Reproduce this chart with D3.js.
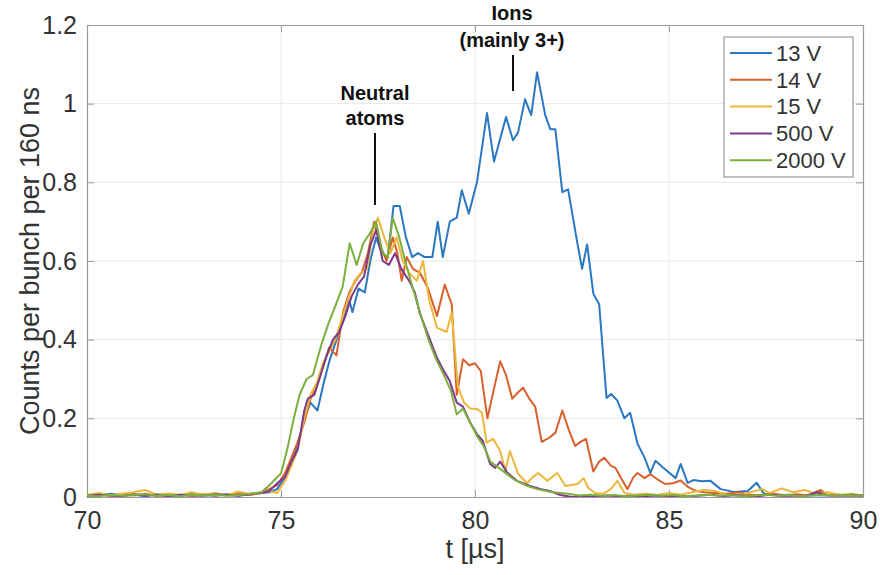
<!DOCTYPE html>
<html>
<head>
<meta charset="utf-8">
<script src="https://cdn.jsdelivr.net/npm/d3@7/dist/d3.min.js"></script>
<style>
  body { margin: 0; background: #fff; }
  svg text { font-family: "Liberation Sans", Arial, Helvetica, sans-serif; }
</style>
</head>
<body>
<svg id="chart" width="880" height="575"></svg>
<script>
// Axis ticks and labels
const xTicks = [70, 75, 80, 85, 90];
const yTicks = [0, 0.2, 0.4, 0.6, 0.8, 1, 1.2];
const yTickLabels = ["0", "0.2", "0.4", "0.6", "0.8", "1", "1.2"];

// Series: detector bias voltage
const seriesNames = ["13 V", "14 V", "15 V", "500 V", "2000 V"];
const seriesColors = ["#2a78c2", "#d9602c", "#ecb73a", "#7d3a8f", "#7caf3e"];

// Counts per bunch per 160 ns vs arrival time t [µs], as [t, counts]
const s13V = [[70,0.005],[70.3,0.003],[70.6,0.008],[70.9,0.004],[71.2,0.006],[71.5,0.002],[71.8,0.007],[72.1,0.004],[72.4,0.003],[72.7,0.008],[73.0,0.005],[73.3,0.003],[73.6,0.007],[73.9,0.004],[74.2,0.006],[74.5,0.01],[74.7,0.012],[74.9,0.02],[75.1,0.05],[75.27,0.09],[75.43,0.13],[75.6,0.2],[75.76,0.24],[75.94,0.22],[76.1,0.29],[76.26,0.35],[76.43,0.40],[76.6,0.45],[76.76,0.50],[76.84,0.47],[77.0,0.53],[77.16,0.52],[77.3,0.6],[77.45,0.66],[77.6,0.62],[77.75,0.61],[77.9,0.74],[78.06,0.74],[78.22,0.66],[78.38,0.61],[78.53,0.62],[78.7,0.61],[78.9,0.61],[79.04,0.70],[79.17,0.61],[79.35,0.70],[79.53,0.71],[79.66,0.78],[79.84,0.72],[80.05,0.80],[80.31,0.976],[80.49,0.853],[80.8,0.966],[80.98,0.907],[81.11,0.927],[81.29,1.011],[81.45,0.971],[81.6,1.08],[81.81,0.971],[81.94,0.935],[82.07,0.935],[82.25,0.775],[82.4,0.782],[82.63,0.65],[82.76,0.58],[82.89,0.642],[83.05,0.517],[83.2,0.49],[83.39,0.252],[83.51,0.262],[83.67,0.245],[83.85,0.20],[84.0,0.214],[84.19,0.135],[84.37,0.10],[84.52,0.061],[84.65,0.092],[84.86,0.074],[85.17,0.048],[85.3,0.084],[85.48,0.036],[85.63,0.043],[85.85,0.04],[86.07,0.041],[86.33,0.02],[86.67,0.013],[87.03,0.015],[87.26,0.036],[87.45,0.008],[87.8,0.004],[88.1,0.006],[88.4,0.003],[88.7,0.005],[89.0,0.004],[89.3,0.006],[89.6,0.003],[90,0.004]];

const s14V = [[70,0.004],[70.3,0.007],[70.6,0.003],[70.9,0.006],[71.2,0.004],[71.5,0.008],[71.8,0.003],[72.1,0.006],[72.4,0.005],[72.7,0.003],[73.0,0.007],[73.3,0.004],[73.6,0.006],[73.9,0.008],[74.2,0.005],[74.5,0.012],[74.7,0.02],[74.9,0.03],[75.1,0.06],[75.27,0.1],[75.43,0.14],[75.6,0.19],[75.76,0.25],[75.92,0.28],[76.08,0.33],[76.24,0.38],[76.43,0.36],[76.6,0.47],[76.76,0.52],[76.92,0.55],[77.08,0.57],[77.24,0.62],[77.4,0.70],[77.56,0.64],[77.72,0.60],[77.88,0.66],[78.0,0.62],[78.11,0.55],[78.24,0.61],[78.4,0.58],[78.58,0.57],[78.79,0.53],[79.02,0.46],[79.22,0.54],[79.4,0.49],[79.53,0.26],[79.69,0.35],[79.85,0.335],[80.0,0.34],[80.15,0.32],[80.32,0.20],[80.5,0.28],[80.65,0.345],[80.8,0.31],[80.96,0.25],[81.1,0.265],[81.24,0.278],[81.4,0.25],[81.55,0.23],[81.72,0.14],[81.9,0.15],[82.07,0.163],[82.25,0.22],[82.42,0.17],[82.58,0.13],[82.72,0.14],[82.86,0.148],[83.05,0.065],[83.2,0.09],[83.33,0.10],[83.5,0.08],[83.62,0.074],[83.78,0.045],[83.93,0.02],[84.08,0.05],[84.19,0.061],[84.37,0.048],[84.52,0.058],[84.7,0.045],[84.9,0.033],[85.1,0.035],[85.3,0.042],[85.5,0.025],[85.7,0.015],[85.9,0.012],[86.2,0.01],[86.5,0.008],[86.8,0.012],[87.1,0.006],[87.4,0.005],[87.7,0.008],[88.0,0.004],[88.3,0.007],[88.6,0.004],[88.9,0.018],[89.1,0.005],[89.4,0.006],[89.7,0.004],[90,0.005]];

const s15V = [[70,0.006],[70.3,0.01],[70.6,0.004],[70.9,0.008],[71.2,0.012],[71.5,0.018],[71.8,0.006],[72.1,0.009],[72.4,0.005],[72.7,0.012],[73.0,0.006],[73.3,0.01],[73.6,0.004],[73.9,0.014],[74.2,0.007],[74.5,0.01],[74.7,0.015],[74.9,0.01],[75.1,0.04],[75.27,0.08],[75.43,0.12],[75.6,0.2],[75.76,0.26],[75.92,0.29],[76.08,0.34],[76.24,0.37],[76.4,0.40],[76.56,0.45],[76.72,0.50],[76.9,0.55],[77.06,0.57],[77.22,0.58],[77.38,0.68],[77.5,0.71],[77.66,0.66],[77.82,0.62],[77.98,0.66],[78.14,0.60],[78.3,0.57],[78.5,0.55],[78.66,0.60],[78.82,0.50],[79.02,0.43],[79.27,0.42],[79.40,0.47],[79.56,0.28],[79.72,0.24],[79.88,0.225],[80.05,0.224],[80.18,0.214],[80.3,0.138],[80.47,0.148],[80.65,0.117],[80.78,0.066],[80.9,0.117],[81.11,0.059],[81.34,0.035],[81.48,0.05],[81.63,0.061],[81.86,0.041],[82.12,0.061],[82.33,0.028],[82.64,0.033],[82.8,0.048],[82.92,0.023],[83.1,0.01],[83.3,0.008],[83.5,0.02],[83.67,0.041],[83.85,0.01],[84.1,0.006],[84.4,0.008],[84.7,0.005],[85.0,0.01],[85.3,0.006],[85.6,0.012],[85.9,0.018],[86.2,0.015],[86.5,0.006],[86.8,0.004],[87.1,0.012],[87.4,0.02],[87.6,0.01],[87.9,0.022],[88.2,0.012],[88.5,0.018],[88.8,0.008],[89.1,0.012],[89.4,0.005],[89.7,0.008],[90,0.004]];

const s500V = [[70,0.003],[70.3,0.006],[70.6,0.004],[70.9,0.002],[71.2,0.007],[71.5,0.004],[71.8,0.005],[72.1,0.002],[72.4,0.006],[72.7,0.004],[73.0,0.003],[73.3,0.007],[73.6,0.005],[73.9,0.003],[74.2,0.008],[74.5,0.01],[74.7,0.015],[74.9,0.035],[75.1,0.05],[75.27,0.09],[75.43,0.12],[75.6,0.22],[75.69,0.25],[75.86,0.26],[76.02,0.31],[76.18,0.36],[76.34,0.40],[76.5,0.42],[76.66,0.46],[76.82,0.51],[76.98,0.54],[77.14,0.56],[77.3,0.64],[77.46,0.68],[77.62,0.60],[77.78,0.59],[77.94,0.62],[78.1,0.58],[78.3,0.55],[78.45,0.52],[78.58,0.466],[78.8,0.41],[79.02,0.354],[79.2,0.32],[79.35,0.295],[79.53,0.24],[79.69,0.23],[79.87,0.19],[80.05,0.16],[80.2,0.143],[80.39,0.084],[80.52,0.074],[80.65,0.09],[80.83,0.062],[81.08,0.041],[81.42,0.028],[81.7,0.02],[81.94,0.015],[82.2,0.005],[82.5,0.0],[82.8,0.003],[83.1,0.001],[83.4,0.004],[83.7,0.002],[84.0,0.003],[84.3,0.001],[84.6,0.004],[84.9,0.002],[85.2,0.003],[85.5,0.001],[85.8,0.004],[86.1,0.006],[86.4,0.002],[86.7,0.005],[87.0,0.003],[87.3,0.002],[87.6,0.006],[87.9,0.003],[88.2,0.004],[88.5,0.002],[88.8,0.012],[89.1,0.004],[89.4,0.003],[89.7,0.006],[90,0.003]];

const s2000V = [[70,0.004],[70.3,0.002],[70.6,0.006],[70.9,0.003],[71.2,0.005],[71.5,0.007],[71.8,0.003],[72.1,0.005],[72.4,0.002],[72.7,0.006],[73.0,0.004],[73.3,0.006],[73.6,0.003],[73.9,0.005],[74.2,0.008],[74.5,0.012],[74.7,0.03],[74.85,0.045],[75.0,0.06],[75.17,0.125],[75.33,0.2],[75.48,0.26],[75.66,0.30],[75.82,0.31],[76.05,0.39],[76.22,0.44],[76.38,0.48],[76.59,0.535],[76.77,0.645],[76.95,0.59],[77.12,0.645],[77.29,0.67],[77.45,0.70],[77.62,0.62],[77.75,0.61],[77.88,0.71],[78.05,0.66],[78.2,0.60],[78.4,0.53],[78.58,0.47],[78.8,0.40],[79.0,0.35],[79.2,0.31],[79.38,0.27],[79.53,0.21],[79.69,0.225],[79.87,0.19],[80.05,0.155],[80.22,0.13],[80.4,0.09],[80.6,0.075],[80.8,0.06],[81.0,0.045],[81.3,0.03],[81.6,0.02],[82.0,0.012],[82.4,0.008],[82.7,0.004],[83.0,0.006],[83.3,0.003],[83.6,0.005],[83.9,0.002],[84.2,0.004],[84.5,0.006],[84.8,0.003],[85.1,0.005],[85.4,0.002],[85.7,0.004],[86.0,0.006],[86.3,0.003],[86.6,0.005],[86.9,0.002],[87.2,0.004],[87.5,0.006],[87.8,0.003],[88.1,0.005],[88.4,0.002],[88.7,0.004],[89.0,0.006],[89.3,0.003],[89.6,0.005],[90,0.003]];

const seriesData = [s13V, s14V, s15V, s500V, s2000V];

const svg = d3.select("#chart");
const plotLeft = 87, plotRight = 863, plotTop = 25, plotBottom = 497;

const x = d3.scaleLinear().domain([70, 90]).range([plotLeft, plotRight]);
const y = d3.scaleLinear().domain([0, 1.2]).range([plotBottom, plotTop]);

const textColor = "#333";
const axisColor = "#9a9a9a";

// Grid
const grid = svg.append("g");
grid.selectAll("line.gx").data(xTicks.slice(1, -1)).join("line")
  .attr("x1", d => x(d)).attr("x2", d => x(d))
  .attr("y1", plotTop).attr("y2", plotBottom)
  .attr("stroke", "#e8e8e8").attr("stroke-width", 1);
grid.selectAll("line.gy").data(yTicks.slice(1, -1)).join("line")
  .attr("x1", plotLeft).attr("x2", plotRight)
  .attr("y1", d => y(d)).attr("y2", d => y(d))
  .attr("stroke", "#e8e8e8").attr("stroke-width", 1);

// Axes with inward ticks on all four sides
const tickLen = 7;
const axisB = d3.axisBottom(x).tickValues(xTicks).tickSizeInner(-tickLen).tickSizeOuter(0).tickPadding(14);
const axisL = d3.axisLeft(y).tickValues(yTicks).tickFormat((d, i) => yTickLabels[i]).tickSizeInner(-tickLen).tickSizeOuter(0).tickPadding(10);
const axisT = d3.axisTop(x).tickValues(xTicks).tickSizeInner(-tickLen).tickSizeOuter(0).tickFormat("");
const axisR = d3.axisRight(y).tickValues(yTicks).tickSizeInner(-tickLen).tickSizeOuter(0).tickFormat("");

function styleAxis(g) {
  g.select(".domain").attr("stroke", axisColor).attr("stroke-width", 1.2);
  g.selectAll(".tick line").attr("stroke", axisColor);
  g.selectAll(".tick text").attr("fill", textColor)
    .style("font-family", '"Liberation Sans", Arial, sans-serif').style("font-size", "25px");
}

svg.append("g").attr("transform", `translate(0,${plotBottom})`).call(axisB).call(styleAxis);
svg.append("g").attr("transform", `translate(${plotLeft},0)`).call(axisL).call(styleAxis);
svg.append("g").attr("transform", `translate(0,${plotTop})`).call(axisT).call(styleAxis);
svg.append("g").attr("transform", `translate(${plotRight},0)`).call(axisR).call(styleAxis);

// Data lines
svg.append("clipPath").attr("id", "plotClip").append("rect")
  .attr("x", plotLeft).attr("y", plotTop - 2).attr("width", plotRight - plotLeft).attr("height", plotBottom - plotTop + 2);

const line = d3.line().x(d => x(d[0])).y(d => y(d[1]));
svg.append("g").attr("clip-path", "url(#plotClip)")
  .selectAll("path").data(seriesData).join("path")
  .attr("d", line)
  .attr("fill", "none")
  .attr("stroke", (d, i) => seriesColors[i])
  .attr("stroke-width", 2)
  .attr("stroke-linejoin", "round");

// Axis titles
svg.append("text")
  .attr("x", (plotLeft + plotRight) / 2).attr("y", 558)
  .attr("text-anchor", "middle").attr("fill", textColor)
  .style("font-size", "27px").text("t [µs]");
svg.append("text")
  .attr("transform", `translate(39,${(plotTop + plotBottom) / 2}) rotate(-90)`)
  .attr("text-anchor", "middle").attr("fill", textColor)
  .style("font-size", "27px").text("Counts per bunch per 160 ns");

// Annotations
const ann = svg.append("g").attr("fill", "#111").style("font-size", "20px").style("font-weight", "bold");
ann.append("text").attr("x", 375).attr("y", 100).attr("text-anchor", "middle").text("Neutral");
ann.append("text").attr("x", 375).attr("y", 125).attr("text-anchor", "middle").text("atoms");
svg.append("line").attr("x1", 375).attr("x2", 375).attr("y1", 133).attr("y2", 205)
  .attr("stroke", "#111").attr("stroke-width", 2);
ann.append("text").attr("x", 512).attr("y", 20).attr("text-anchor", "middle").text("Ions");
ann.append("text").attr("x", 512).attr("y", 47).attr("text-anchor", "middle").text("(mainly 3+)");
svg.append("line").attr("x1", 513).attr("x2", 513).attr("y1", 55).attr("y2", 91)
  .attr("stroke", "#111").attr("stroke-width", 2);

// Legend
const lg = svg.append("g");
lg.append("rect").attr("x", 724).attr("y", 37).attr("width", 129).attr("height", 140)
  .attr("fill", "#fff").attr("stroke", axisColor).attr("stroke-width", 1.2);
const rows = lg.selectAll("g.row").data(seriesNames).join("g")
  .attr("transform", (d, i) => `translate(0,${53 + i * 26.8})`);
rows.append("line").attr("x1", 730).attr("x2", 772).attr("y1", 0).attr("y2", 0)
  .attr("stroke", (d, i) => seriesColors[i]).attr("stroke-width", 2);
rows.append("text").attr("x", 776).attr("y", 0).attr("dy", "0.35em")
  .attr("fill", textColor).style("font-size", "22px").text(d => d);
</script>
</body>
</html>
